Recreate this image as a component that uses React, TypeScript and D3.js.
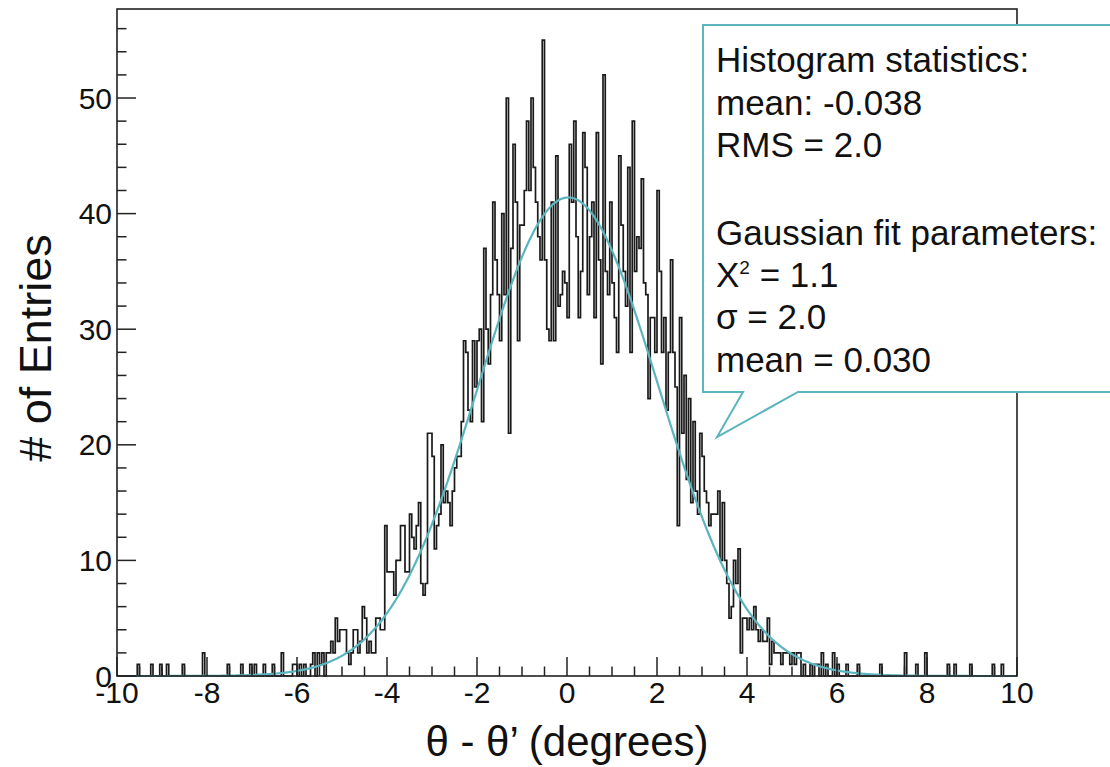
import React from 'react';
import * as d3 from 'd3';

// Histogram: 400 bins of width 0.05 from -10 to 10
const binLow = -10;
const binWidth = 0.05;
const counts: number[] = [
  0,0,0,0,0,0,0,0,0,1, 0,0,0,0,0,1,0,0,0,1,
  0,0,1,0,0,0,0,0,0,1, 0,0,0,0,0,0,0,0,2,0,
  0,0,0,0,0,0,0,0,0,1, 0,0,0,0,0,1,0,0,0,1,
  0,1,0,0,0,1,0,0,0,1, 0,0,0,2,0,0,0,0,1,1,
  0,1,0,1,0,0,1,2,0,2, 1,2,0,2,2,3,2,5,3,4,
  4,4,2,1,2,4,4,2,3,6, 5,2,3,2,2,5,5,4,4,13,
  9,9,9,7,10,10,13,13,9,9, 14,12,11,13,15,8,7,8,21,21,
  19,11,13,14,20,15,16,15,13,16, 18,19,19,22,29,28,23,22,29,25,
  29,30,22,37,30,27,33,41,36,33, 29,40,33,50,21,37,46,41,29,39,
  39,42,48,42,50,44,41,38,36,55, 36,30,29,41,29,45,32,33,35,34,
  31,46,41,48,38,31,35,47,44,33, 38,41,31,47,36,27,52,35,33,41,
  34,31,28,45,39,35,32,44,28,48, 35,38,37,43,34,33,24,31,31,28,
  42,35,28,31,23,28,36,28,25,13, 31,21,26,17,24,15,22,16,14,21,
  19,16,15,13,14,14,14,16,10,15, 10,8,5,6,10,8,11,2,5,5,
  4,5,4,6,4,3,4,3,3,5, 1,3,2,2,2,1,2,2,2,1,
  2,1,2,2,0,1,0,0,1,0, 1,1,0,2,0,1,0,0,2,0,
  1,0,0,0,1,0,0,0,0,1, 0,0,0,0,0,0,0,0,0,1,
  0,0,0,0,0,0,0,0,0,0, 2,0,0,0,0,1,0,0,0,2,
  0,0,0,0,0,0,0,0,0,1, 0,0,1,0,0,0,0,0,0,1,
  0,0,0,0,0,0,0,0,0,1, 0,0,0,1,0,0,0,0,0,0,
];

const xMajorTicks = [-10, -8, -6, -4, -2, 0, 2, 4, 6, 8, 10];
const yMajorTicks = [0, 10, 20, 30, 40, 50];

// Gaussian fit parameters
const gaussMean = 0.03;
const gaussSigma = 2.0;
const gaussAmp = 41.4;

const statsLines = [
  'Histogram statistics:',
  'mean: -0.038',
  'RMS = 2.0',
  '',
  'Gaussian fit parameters:',
  'X2',
  'σ = 2.0',
  'mean = 0.030',
];

const xTitle = 'θ - θ’ (degrees)';
const yTitle = '# of Entries';

const FONT = '"Liberation Sans", Arial, Helvetica, sans-serif';
const TEAL = '#5ab5bf';
const INK = '#1a1a1a';

export default function App() {
  const W = 1110, H = 767;
  const left = 117, right = 1017, top = 9, bottom = 676;
  const x = d3.scaleLinear().domain([-10, 10]).range([left, right]);
  const y = d3.scaleLinear().domain([0, 57.7]).range([bottom, top]);

  const pts: [number, number][] = counts.map((c, i) => [binLow + i * binWidth, c]);
  pts.push([binLow + counts.length * binWidth, counts[counts.length - 1]]);
  const histPath = d3.line<[number, number]>()
    .x(d => x(d[0])).y(d => y(d[1]))
    .curve(d3.curveStepAfter)(pts) || '';

  const gaussPts: [number, number][] = d3.range(-10, 10.0001, 0.025).map(v => [
    v, gaussAmp * Math.exp(-0.5 * ((v - gaussMean) / gaussSigma) ** 2),
  ]);
  const gaussPath = d3.line<[number, number]>().x(d => x(d[0])).y(d => y(d[1]))(gaussPts) || '';

  const xMinor = d3.range(-10, 10.0001, 0.5).filter(v => Math.abs(v / 2 - Math.round(v / 2)) > 1e-6);
  const yMinor = d3.range(0, 57, 2).filter(v => v % 10 !== 0);

  const boxL = 703, boxT = 25, boxR = 1116, boxB = 392;
  const calloutPath = `M${boxL},${boxT} H${boxR} V${boxB} H798 L717,437 L743,${boxB} H${boxL} Z`;
  const textX = 716;
  const lineY = [72, 114.5, 157, 200, 245, 287, 329, 372];
  const statSize = 35;

  return (
    <svg width={W} height={H} style={{ position: 'absolute', left: 0, top: 0, background: '#fff' }}
      fontFamily={FONT}>
      <rect x={0} y={0} width={W} height={H} fill="#fff" />
      {/* histogram */}
      <path d={histPath} fill="none" stroke={INK} strokeWidth={1.7} />
      {/* gaussian fit */}
      <path d={gaussPath} fill="none" stroke={TEAL} strokeWidth={2.2} />
      {/* frame */}
      <rect x={left} y={top} width={right - left} height={bottom - top} fill="none" stroke="#222" strokeWidth={1.6} />
      {/* x ticks */}
      {xMajorTicks.map(v => (
        <line key={'xM' + v} x1={x(v)} x2={x(v)} y1={bottom} y2={bottom - 19} stroke="#222" strokeWidth={1.5} />
      ))}
      {xMinor.map(v => (
        <line key={'xm' + v} x1={x(v)} x2={x(v)} y1={bottom} y2={bottom - 9.5} stroke="#222" strokeWidth={1.5} />
      ))}
      {/* y ticks */}
      {yMajorTicks.map(v => (
        <line key={'yM' + v} x1={left} x2={left + 19} y1={y(v)} y2={y(v)} stroke="#222" strokeWidth={1.5} />
      ))}
      {yMinor.map(v => (
        <line key={'ym' + v} x1={left} x2={left + 9.5} y1={y(v)} y2={y(v)} stroke="#222" strokeWidth={1.5} />
      ))}
      {/* tick labels */}
      {xMajorTicks.map(v => (
        <text key={'xl' + v} x={x(v)} y={703} fontSize={30} textAnchor="middle" fill="#111">{v}</text>
      ))}
      {yMajorTicks.map(v => (
        <text key={'yl' + v} x={112} y={y(v) + 10.5} fontSize={30} textAnchor="end" fill="#111">{v}</text>
      ))}
      {/* axis titles */}
      <text x={567} y={756} fontSize={42} textAnchor="middle" fill="#111">{xTitle}</text>
      <text transform="translate(51,348) rotate(-90)" fontSize={45} textAnchor="middle" fill="#111">{yTitle}</text>
      {/* stats box */}
      <path d={calloutPath} fill="#fff" stroke={TEAL} strokeWidth={2} />
      {statsLines.map((s, i) => s === '' ? null : (
        s === 'X2' ? (
          <text key={'s' + i} x={textX} y={lineY[i]} fontSize={statSize} fill="#111">
            X<tspan fontSize={19} dy={-13}>2</tspan><tspan dy={13}> = 1.1</tspan>
          </text>
        ) : (
          <text key={'s' + i} x={textX} y={lineY[i]} fontSize={statSize} fill="#111">{s}</text>
        )
      ))}
    </svg>
  );
}
